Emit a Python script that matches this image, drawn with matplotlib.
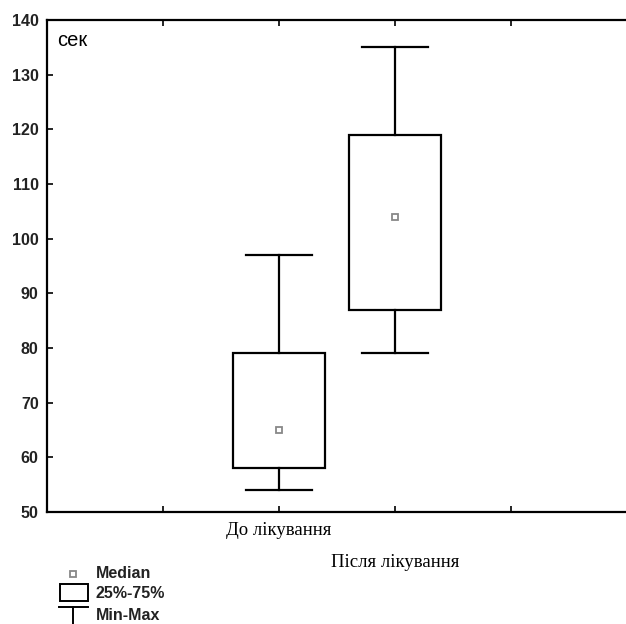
import matplotlib
matplotlib.use("Agg")
import matplotlib.pyplot as plt
from matplotlib.patches import Rectangle
from matplotlib.lines import Line2D

# data
groups = ["До лікування", "Після лікування"]
q_min = [54, 79]
q25 = [58, 87]
median = [65, 104]
q75 = [79, 119]
q_max = [97, 135]
yticks = [50, 60, 70, 80, 90, 100, 110, 120, 130, 140]

W, H = 626, 624
fig = plt.figure(figsize=(W / 100, H / 100), dpi=100)
ax = fig.add_axes([47 / W, 1 - 512 / H, (627 - 47) / W, (512 - 20) / H])

box_w = 0.8
cap_w = 0.57
lw = 1.6
for i in range(len(groups)):
    x = i + 1
    ax.add_patch(Rectangle((x - box_w / 2, q25[i]), box_w, q75[i] - q25[i],
                           fill=False, edgecolor="black", linewidth=lw))
    ax.plot([x, x], [q75[i], q_max[i]], color="black", lw=lw)
    ax.plot([x, x], [q_min[i], q25[i]], color="black", lw=lw)
    ax.plot([x - cap_w / 2, x + cap_w / 2], [q_max[i]] * 2, color="black", lw=lw)
    ax.plot([x - cap_w / 2, x + cap_w / 2], [q_min[i]] * 2, color="black", lw=lw)
    ax.plot(x, median[i], marker="s", ms=4.5, mfc="white", mec="#888888", mew=1.3)

ax.set_xlim(-1, 4)
ax.set_ylim(50, 140)
ax.set_yticks(yticks)
ax.set_xticks([0, 1, 2, 3])
ax.set_xticklabels([])
ax.tick_params(direction="in", length=4, width=1.2, top=True)
ax.tick_params(axis="y", labelsize=11.5, pad=6, labelcolor="#222222")
for lab in ax.get_yticklabels():
    lab.set_fontfamily("Liberation Sans")
    lab.set_fontweight("bold")
for s in ax.spines.values():
    s.set_linewidth(1.6)
ax.spines["right"].set_visible(False)

ax.text(0.018, 0.978, "сек", transform=ax.transAxes, ha="left", va="top",
        fontsize=14.5, family="Liberation Sans")

# staggered category labels
ax.text(1, -0.02, groups[0], transform=ax.get_xaxis_transform(), ha="center",
        va="top", fontsize=13.5, family="Liberation Serif")
ax.text(2, -0.085, groups[1], transform=ax.get_xaxis_transform(), ha="center",
        va="top", fontsize=13.5, family="Liberation Serif")

# legend at lower left (figure pixels)
def fx(px):
    return px / W

def fy(py):
    return 1 - py / H

fig.add_artist(Line2D([fx(73)], [fy(574)], marker="s", ms=4.5, mfc="white",
                      mec="#888888", mew=1.3, transform=fig.transFigure))
fig.add_artist(Rectangle((fx(60), fy(601)), fx(88) - fx(60), fy(584) - fy(601),
                         fill=False, edgecolor="black", lw=1.4,
                         transform=fig.transFigure))
fig.add_artist(Line2D([fx(59), fx(88)], [fy(607), fy(607)], color="black",
                      lw=1.4, transform=fig.transFigure))
fig.add_artist(Line2D([fx(73), fx(73)], [fy(607), fy(626)], color="black",
                      lw=1.4, transform=fig.transFigure))
for py, txt in [(574, "Median"), (593, "25%-75%"), (615, "Min-Max")]:
    fig.text(fx(96), fy(py), txt, ha="left", va="center", fontsize=11.5,
             family="Liberation Sans", fontweight="bold", color="#222222")

fig.savefig("out.png", dpi=100)
